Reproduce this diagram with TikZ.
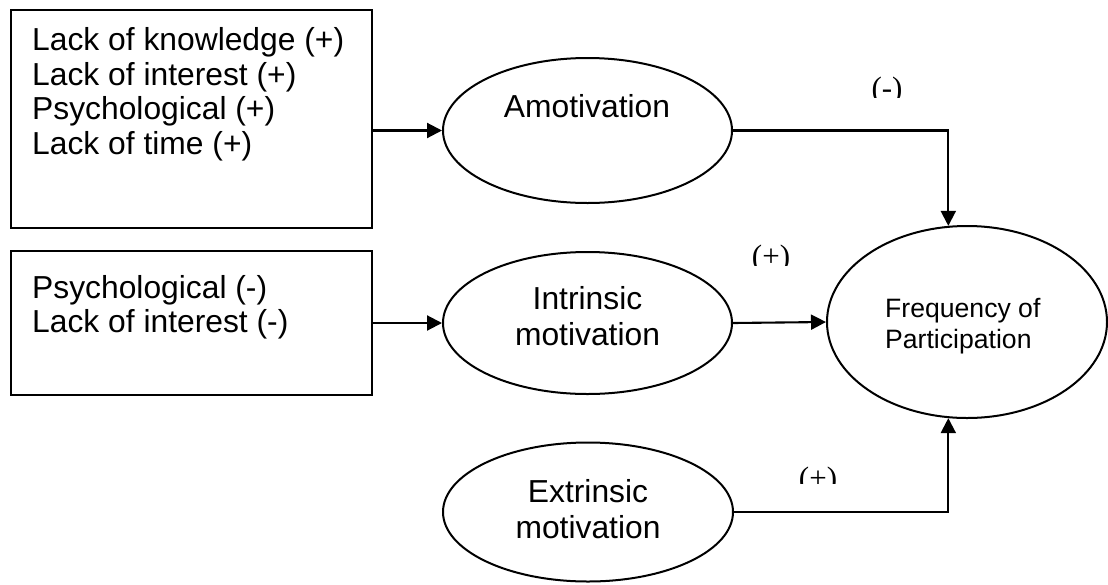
\documentclass[tikz,border=0pt]{standalone}
\usepackage{fontspec}
\setmainfont{Liberation Sans}
\newfontfamily\lblfont{Liberation Serif}
\usetikzlibrary{shapes.geometric,arrows.meta}
\tikzset{
  boxshape/.style={draw, line width=2.1pt, rectangle, inner sep=0pt},
  ovalshape/.style={draw, line width=2pt, ellipse, inner sep=0pt},
  bigtxt/.style={inner sep=0pt, font=\fontsize{31.8}{34}\selectfont},
  smalltxt/.style={inner sep=0pt, font=\fontsize{26.6}{30}\selectfont},
  lbl/.style={inner sep=0pt, anchor=base, font=\lblfont\fontsize{31}{34}\selectfont},
  arr/.style={line width=2.1pt, -{Triangle[length=15pt,width=15pt]}},
}
\begin{document}
\begin{tikzpicture}[x=1pt,y=-1pt]
\useasboundingbox (0,0) rectangle (1108,584);
% boxes
\node[boxshape, minimum width=361pt, minimum height=218pt] (box1) at (191.5,119) {};
\node[boxshape, minimum width=361pt, minimum height=144pt] (box2) at (191.5,323) {};
% box texts
\node[bigtxt, anchor=base west] (b1a) at (32,50) {Lack of knowledge (+)};
\node[bigtxt, anchor=base west] (b1b) at (32,85) {Lack of interest (+)};
\node[bigtxt, anchor=base west] (b1c) at (32,119) {Psychological (+)};
\node[bigtxt, anchor=base west] (b1d) at (32,154) {Lack of time (+)};
\node[bigtxt, anchor=base west] (b2a) at (32,298) {Psychological (-)};
\node[bigtxt, anchor=base west] (b2b) at (32,332) {Lack of interest (-)};
% ellipses
\node[ovalshape, minimum width=289pt, minimum height=145pt] (amo) at (587.5,130.5) {};
\node[ovalshape, minimum width=289pt, minimum height=142pt] (intr) at (587.5,323) {};
\node[ovalshape, minimum width=290pt, minimum height=139pt] (extr) at (588,512) {};
\node[ovalshape, minimum width=280pt, minimum height=192pt] (freq) at (967,322) {};
% ellipse texts
\node[bigtxt, anchor=base] (tamo) at (587,117) {Amotivation};
\node[bigtxt, anchor=base] (tin1) at (587.5,309) {Intrinsic};
\node[bigtxt, anchor=base] (tin2) at (587.5,345) {motivation};
\node[bigtxt, anchor=base] (tex1) at (588,502) {Extrinsic};
\node[bigtxt, anchor=base] (tex2) at (588,538) {motivation};
\node[smalltxt, anchor=base west] (tfr1) at (885,317) {Frequency of};
\node[smalltxt, anchor=base west] (tfr2) at (885,348) {Participation};
% connectors
\draw[arr] (box1.east |- amo.west) -- (amo.west);
\draw[arr] (box2.east |- intr.west) -- (intr.west);
\draw[arr] (amo.east) -| (freq.101);
\draw[arr] (intr.east) -- (freq.west);
\draw[arr] (extr.east) -| (freq.-101);
% labels (clipped at bottom, as in the original)
\begin{scope}
\clip (850,60) rectangle (930,97);
\node[lbl] (lminus) at (887,98) {(-)};
\end{scope}
\begin{scope}
\clip (740,230) rectangle (800,265);
\node[lbl] (lplus1) at (771,266) {(+)};
\end{scope}
\begin{scope}
\clip (790,455) rectangle (850,483);
\node[lbl] (lplus2) at (818,488) {(+)};
\end{scope}
\end{tikzpicture}
\end{document}
